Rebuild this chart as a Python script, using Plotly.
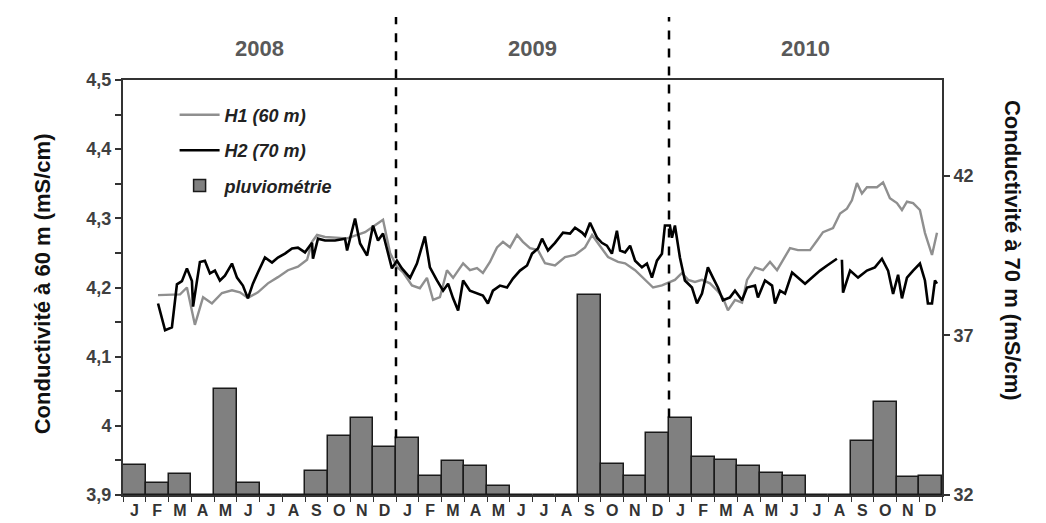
import plotly.graph_objects as go

# Axe des x : mois depuis janvier 2008 (0 = début janvier 2008, 36 = fin décembre 2010)
mois = ['J', 'F', 'M', 'A', 'M', 'J', 'J', 'A', 'S', 'O', 'N', 'D'] * 3
annees = ['2008', '2009', '2010']

pluvio = [0.043, 0.018, 0.031, 0, 0.153, 0.017, 0, 0, 0.034, 0.086, 0.112, 0.070,
          0.082, 0.027, 0.049, 0.042, 0.013, 0, 0, 0, 0.289, 0.045, 0.027, 0.089,
          0.112, 0.055, 0.051, 0.042, 0.032, 0.028, 0, 0, 0.078, 0.134, 0.026, 0.028]

# H1 (60 m), conductivité en mS/cm, axe de gauche
h1_t = [1.54, 2.07, 2.51, 2.81, 3.16, 3.52, 3.91, 4.35, 4.79, 5.14, 5.49, 5.93, 6.37, 6.81,
        7.25, 7.69, 8.09, 8.31, 8.53, 8.88, 9.32, 9.85, 10.2, 10.64, 11.08, 11.43, 11.74,
        12.04, 12.31, 12.7, 13.05, 13.36, 13.63, 13.93, 14.24, 14.51, 14.95, 15.25, 15.56,
        15.82, 16.13, 16.44, 16.7, 17.01, 17.32, 17.58, 17.89, 18.24, 18.55, 18.99, 19.43,
        19.87, 20.31, 20.62, 20.88, 21.32, 21.76, 22.07, 22.51, 22.95, 23.3, 23.69, 24.04,
        24.26, 24.57, 24.84, 25.14, 25.45, 25.8, 26.11, 26.37, 26.59, 26.9, 27.21, 27.43,
        27.78, 28.13, 28.44, 28.75, 28.97, 29.32, 29.67, 30.2, 30.51, 30.77, 31.21, 31.52,
        31.82, 32.04, 32.26, 32.48, 32.7, 33.14, 33.41, 33.71, 34.02, 34.24, 34.46, 34.73,
        35.03, 35.25, 35.56, 35.78]
h1 = [4.189, 4.19, 4.19, 4.2, 4.146, 4.186, 4.177, 4.192, 4.196, 4.193, 4.185, 4.193, 4.206,
      4.215, 4.225, 4.23, 4.24, 4.266, 4.276, 4.273, 4.272, 4.271, 4.275, 4.28, 4.29, 4.298,
      4.25, 4.23, 4.222, 4.203, 4.199, 4.214, 4.182, 4.186, 4.225, 4.214, 4.235, 4.225, 4.228,
      4.221, 4.237, 4.258, 4.266, 4.258, 4.276, 4.266, 4.257, 4.254, 4.235, 4.232, 4.244,
      4.247, 4.258, 4.276, 4.264, 4.244, 4.237, 4.235, 4.225, 4.211, 4.2, 4.203, 4.208, 4.211,
      4.221, 4.211, 4.208, 4.211, 4.206, 4.196, 4.185, 4.167, 4.182, 4.178, 4.211, 4.229,
      4.225, 4.237, 4.225, 4.237, 4.257, 4.254, 4.254, 4.268, 4.28, 4.286, 4.307, 4.314,
      4.326, 4.351, 4.336, 4.345, 4.345, 4.352, 4.329, 4.322, 4.312, 4.324, 4.322, 4.312,
      4.279, 4.247, 4.279]

# H2 (70 m), conductivité en mS/cm, axe de droite (None = lacune)
h2_t = [1.54, 1.85, 2.15, 2.37, 2.59, 2.81, 3.03, 3.08, 3.25, 3.38, 3.6, 3.82, 4.04, 4.26,
        4.48, 4.79, 5.01, 5.27, 5.49, 5.71, 5.93, 6.24, 6.55, 6.81, 7.12, 7.43, 7.69, 8.0,
        8.31, 8.35, 8.57, 8.88, 9.32, 9.76, 9.85, 10.2, 10.42, 10.73, 10.99, 11.21, 11.43,
        11.65, 11.82, 12.04, 12.26, 12.62, 12.92, 13.27, 13.49, 13.8, 14.07, 14.29, 14.51,
        14.73, 14.95, 15.25, 15.56, 15.82, 16.04, 16.26, 16.57, 16.88, 17.14, 17.45, 17.76,
        17.98, 18.24, 18.42, 18.68, 18.99, 19.34, 19.65, 19.87, 20.18, 20.31, 20.53, 20.84,
        21.05, 21.27, 21.49, 21.71, 21.85, 22.07, 22.29, 22.51, 22.81, 23.03, 23.25, 23.47,
        23.69, 23.82, 24.04, 24.13, 24.26, 24.48, 24.7, 25.01, 25.23, 25.45, 25.71, 25.93,
        26.15, 26.37, 26.68, 26.9, 27.21, 27.43, 27.78, 27.91, 28.22, 28.53, 28.66, 28.88,
        29.1, 29.41, 29.67, 29.98, 30.29, 30.64, 30.95, 31.38, 31.49, 31.6, 31.65, 31.96,
        32.31, 32.7, 33.05, 33.36, 33.63, 33.85, 34.07, 34.24, 34.46, 34.73, 35.03, 35.25,
        35.38, 35.56, 35.69, 35.78]
h2 = [38.0, 37.16, 37.25, 38.6, 38.7, 39.1, 38.7, 37.9, 38.7, 39.3, 39.34, 38.94, 39.03, 38.72,
      38.87, 39.25, 38.81, 38.56, 38.16, 38.62, 38.97, 39.44, 39.28, 39.44, 39.56, 39.72, 39.75,
      39.6, 39.9, 39.4, 40.03, 39.97, 39.97, 40.03, 39.66, 40.66, 39.88, 39.5, 40.44, 39.97,
      40.19, 39.56, 39.1, 39.34, 39.1, 38.8, 39.25, 40.1, 39.13, 38.72, 38.4, 38.62, 38.16,
      37.78, 38.72, 38.4, 38.31, 38.25, 38.0, 38.4, 38.56, 38.5, 38.78, 39.03, 39.19, 39.56,
      39.72, 40.03, 39.66, 39.9, 40.22, 40.19, 40.375, 40.22, 40.12, 40.53, 40.06, 39.9, 39.81,
      39.56, 40.28, 39.66, 39.6, 39.81, 39.34, 39.13, 39.25, 38.81, 39.34, 39.56, 40.44, 40.44,
      40.06, 40.44, 39.44, 38.72, 38.5, 38.0, 38.31, 39.13, 38.81, 38.5, 38.1, 38.19, 38.4,
      38.1, 38.5, 38.56, 38.19, 38.72, 38.56, 38.0, 38.4, 38.31, 38.97, 38.81, 38.62, 38.81,
      39.03, 39.19, 39.4, None, 39.37, 38.34, 39.03, 38.81, 39.03, 39.13, 39.4, 39.03, 38.3,
      38.9, 38.16, 38.81, 39.03, 39.25, 38.72, 38.0, 38.0, 38.72, 38.62]

police = 'Liberation Sans, Arial, sans-serif'
centres = [i + 0.5 for i in range(len(mois))]

fig = go.Figure()

fig.add_trace(go.Bar(
    x=centres, y=pluvio, base=3.9, width=1,
    name='<b><i>pluviométrie</i></b>', legendgroup='p', legendrank=3,
    marker=dict(color='#808080', line=dict(color='#1a1a1a', width=1.5)),
))
fig.add_trace(go.Scatter(
    x=h1_t, y=h1, mode='lines', name='<b><i>H1 (60 m)</i></b>',
    legendgroup='h1', legendrank=1,
    line=dict(color='#8f8f8f', width=2.4),
))
fig.add_trace(go.Scatter(
    x=h2_t, y=h2, mode='lines', name='<b><i>H2 (70 m)</i></b>', yaxis='y2',
    legendgroup='h2', legendrank=2, connectgaps=False,
    line=dict(color='#000000', width=2.6),
))

# lignes pointillées de séparation des années
for k in (1, 2):
    fig.add_shape(type='line', xref='paper', yref='paper',
                  x0=k / 3, x1=k / 3, y0=pluvio[12 * k] / 0.6, y1=1.152,
                  line=dict(color='#000000', width=2.5, dash='dash'))

annots = []
for i, a in enumerate(annees):
    annots.append(dict(x=6 + 12 * i, xref='x', y=1.077, yref='paper', text='<b>%s</b>' % a,
                       xanchor='center', yanchor='middle', showarrow=False,
                       font=dict(family=police, size=22, color='#595959')))
annots.append(dict(x=-0.099, xref='paper', y=0.51, yref='paper', textangle=-90,
                   xanchor='center', yanchor='middle',
                   text='<b>Conductivité à 60 m (mS/cm)</b>', showarrow=False,
                   font=dict(family=police, size=22, color='#111111')))
annots.append(dict(x=1.087, xref='paper', y=0.59, yref='paper', textangle=90,
                   xanchor='center', yanchor='middle',
                   text='<b>Conductivité à 70 m (mS/cm)</b>', showarrow=False,
                   font=dict(family=police, size=22, color='#111111')))

gauche = [3.9, 4.0, 4.1, 4.2, 4.3, 4.4, 4.5]
gauche_txt = ['<b>3,9</b>', '<b>4</b>', '<b>4,1</b>', '<b>4,2</b>', '<b>4,3</b>', '<b>4,4</b>', '<b>4,5</b>']

fig.update_layout(
    width=1046, height=523,
    margin=dict(l=123, r=104, t=80, b=28),
    paper_bgcolor='white', plot_bgcolor='white',
    bargap=0,
    font=dict(family=police, color='#333333'),
    annotations=annots,
    legend=dict(x=0.063, y=0.96, xanchor='left', yanchor='top', bgcolor='rgba(0,0,0,0)',
                tracegroupgap=9, font=dict(family=police, size=18, color='#222222'),
                itemwidth=40),
    xaxis=dict(range=[0, 36], tickvals=centres, ticktext=['<b>%s</b>' % m for m in mois],
               ticks='', tickfont=dict(size=16, color='#333333'), automargin=False,
               minor=dict(ticks='outside', tick0=0, dtick=1, ticklen=5, tickcolor='#333333'),
               showline=True, linecolor='#333333', linewidth=2, mirror=True,
               showgrid=False, zeroline=False, fixedrange=True),
    yaxis=dict(range=[3.9, 4.5], tickvals=gauche, ticktext=gauche_txt, automargin=False,
               ticks='outside', ticklen=6, tickcolor='#333333', tickwidth=1.5,
               minor=dict(ticks='outside', dtick=0.05, tick0=3.9, ticklen=6, tickcolor='#333333'),
               tickfont=dict(size=18, color='#404040'),
               showline=True, linecolor='#333333', linewidth=2,
               showgrid=False, zeroline=False),
    yaxis2=dict(range=[32, 45], tickvals=[32, 37, 42], ticktext=['<b>32</b>', '<b>37</b>', '<b>42</b>'],
                overlaying='y', side='right', ticks='outside', ticklen=6, tickcolor='#333333',
                tickwidth=1.5, tickfont=dict(size=18, color='#404040'), automargin=False,
                showline=True, linecolor='#333333', linewidth=2,
                showgrid=False, zeroline=False),
)

fig.write_html('out.html', config={'displayModeBar': False},
               post_script="document.body.style.margin='0';")
